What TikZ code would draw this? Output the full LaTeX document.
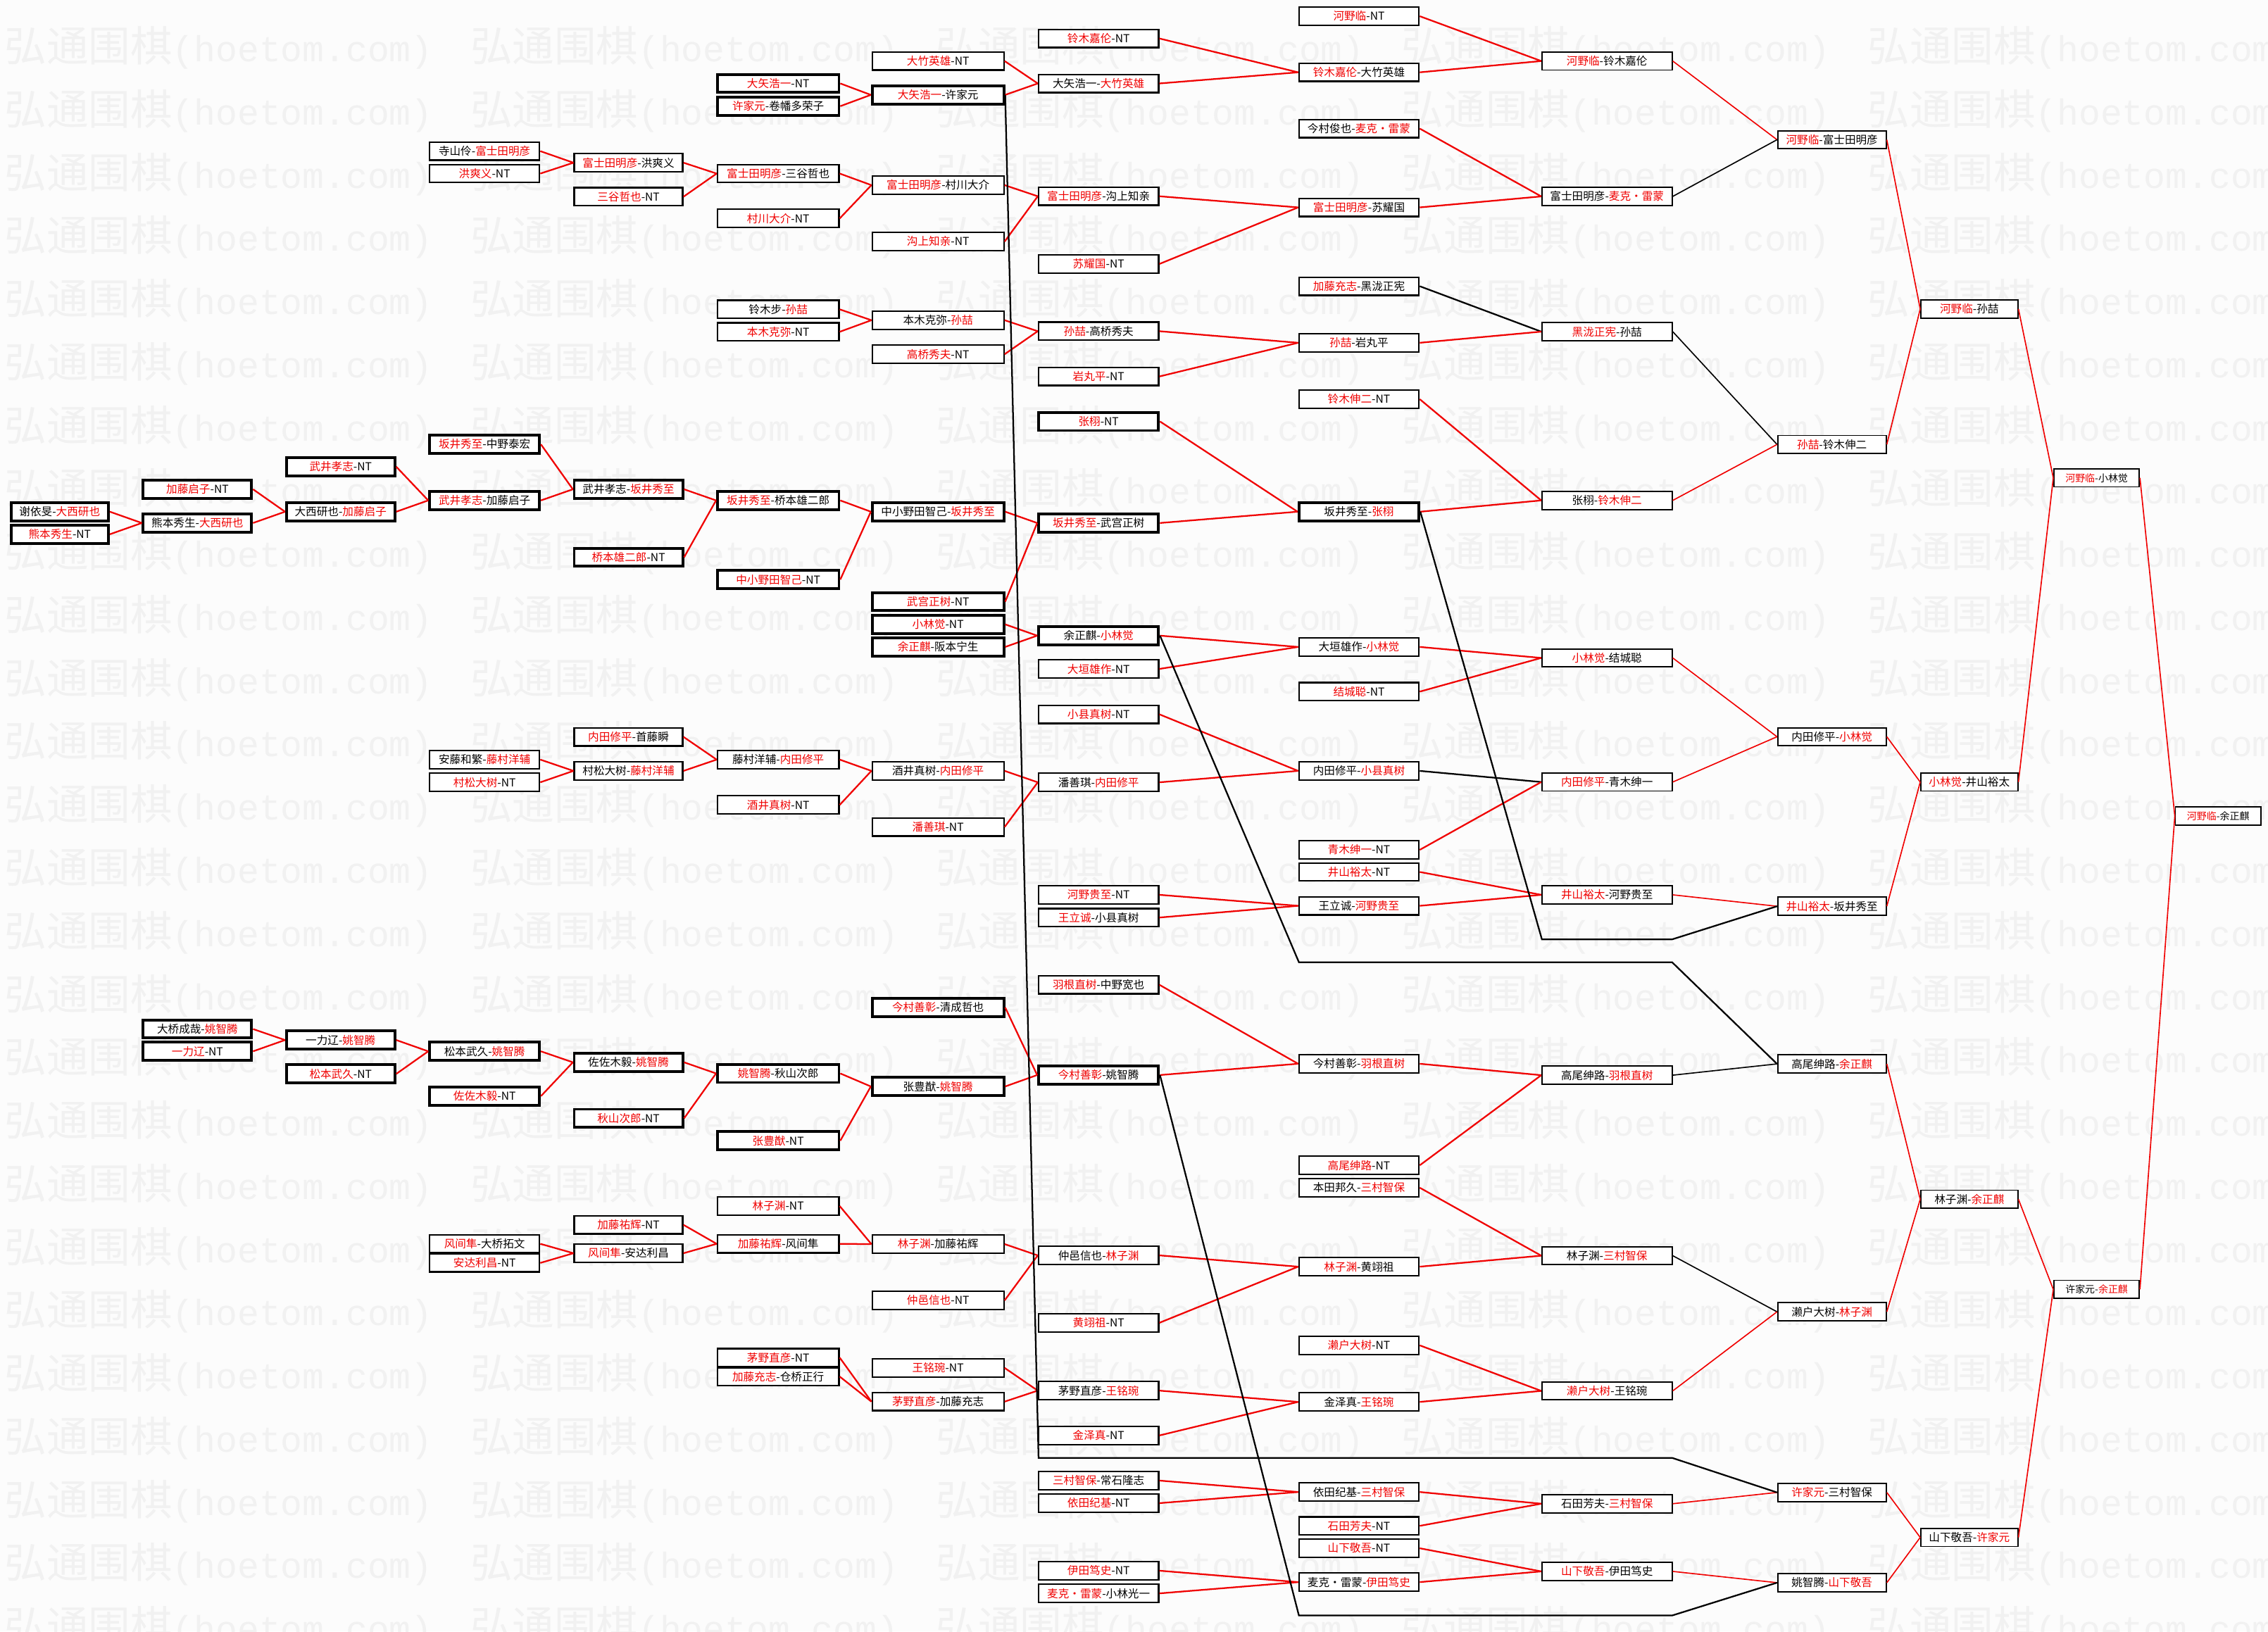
\documentclass[tikz,border=0pt]{standalone}
\usepackage{fontspec}
\newfontfamily\cjk{Noto Sans CJK SC}
\newfontfamily\wmmono{Liberation Mono}
\definecolor{myred}{RGB}{240,0,0}
\definecolor{wmc}{RGB}{241,241,241}
\definecolor{bgc}{RGB}{252,252,252}
\newcommand\R[1]{\textcolor{myred}{#1}}
\newcommand\ed[3][rl]{\draw[#1] (#2.east) -- (#3.west);}
\begin{document}
\begin{tikzpicture}[x=1pt,y=-1pt,
 box/.style={draw=black,fill=white,inner sep=0pt,minimum height=12.5pt,font=\cjk\fontsize{7.6}{8}\selectfont,line width=1.1pt},
 rbox/.style={box,line width=0.9pt},
 thk/.style={line width=1.9pt},
 c0/.style={box,minimum width=67.4pt},
 c1/.style={box,minimum width=75pt},
 c2/.style={box,minimum width=75pt},
 c3/.style={box,minimum width=76pt},
 c4/.style={box,minimum width=75pt},
 c5/.style={box,minimum width=84pt},
 c6/.style={box,minimum width=91pt},
 c7/.style={box,minimum width=83pt},
 c8/.style={box,minimum width=83pt},
 c9/.style={rbox,minimum width=90pt},
 c10/.style={rbox,minimum width=75pt},
 c11/.style={rbox,minimum width=67pt},
 c12/.style={rbox,minimum width=59pt,font=\cjk\fontsize{6.8}{7}\selectfont},
 c13/.style={rbox,minimum width=59pt,font=\cjk\fontsize{6.8}{7}\selectfont},
 rl/.style={draw=myred,line width=1.1pt},
 rlt/.style={draw=myred,line width=0.8pt},
 bl/.style={draw=black,line width=1.1pt},
 blt/.style={draw=black,line width=0.8pt},
 wmark/.style={anchor=west,inner sep=0pt,text=wmc}]
\fill[bgc] (0,0) rectangle (1568,1128);
\useasboundingbox (0,0) rectangle (1568,1128);
% watermark
\foreach \r in {0,...,25}{\foreach \c in {0,...,4}{
 \node[wmark] (wm-\r-\c) at ({3+322*\c},{33+43.7*\r}) {\cjk\fontsize{29}{30}\selectfont 弘通围棋\wmmono\fontsize{25}{26}\selectfont(hoetom.com)};}}
% ---- column 0
\node[c0,thk] (n0a) at (41.3,353.8) {谢依旻-\R{大西研也}};
\node[c0,thk] (n0b) at (41.3,369.4) {\R{熊本秀生}-NT};
% ---- column 1
\node[c1,thk] (n1a) at (136.5,338.3) {\R{加藤启子}-NT};
\node[c1,thk] (n1b) at (136.5,361.6) {熊本秀生-\R{大西研也}};
\node[c1,thk] (n1c) at (136.5,711.5) {大桥成哉-\R{姚智腾}};
\node[c1,thk] (n1d) at (136.5,726.9) {\R{一力辽}-NT};
% ---- column 2
\node[c2,thk] (n2a) at (235.5,322.7) {\R{武井孝志}-NT};
\node[c2,thk] (n2b) at (235.5,353.8) {大西研也-\R{加藤启子}};
\node[c2,thk] (n2c) at (235.5,719.1) {一力辽-\R{姚智腾}};
\node[c2,thk] (n2d) at (235.5,742.5) {\R{松本武久}-NT};
% ---- column 3
\node[c3] (n3a) at (335,104.5) {寺山伶-\R{富士田明彦}};
\node[c3] (n3b) at (335,120) {\R{洪爽义}-NT};
\node[c3,thk] (n3c) at (335,307.2) {\R{坂井秀至}-中野泰宏};
\node[c3,thk] (n3d) at (335,346) {\R{武井孝志}-加藤启子};
\node[c3] (n3e) at (335,525.2) {安藤和繁-\R{藤村洋辅}};
\node[c3] (n3f) at (335,540.9) {\R{村松大树}-NT};
\node[c3,thk] (n3g) at (335,726.9) {松本武久-\R{姚智腾}};
\node[c3,thk] (n3h) at (335,757.9) {\R{佐佐木毅}-NT};
\node[c3] (n3i) at (335,860) {\R{风间隼}-大桥拓文};
\node[c3] (n3j) at (335,873.2) {\R{安达利昌}-NT};
% ---- column 4
\node[c4] (n4a) at (434.5,112.5) {\R{富士田明彦}-洪爽义};
\node[c4] (n4b) at (434.5,136) {\R{三谷哲也}-NT};
\node[c4,thk] (n4c) at (434.5,338.3) {武井孝志-\R{坂井秀至}};
\node[c4,thk] (n4d) at (434.5,385.3) {\R{桥本雄二郎}-NT};
\node[c4] (n4e) at (434.5,509.5) {\R{内田修平}-首藤瞬};
\node[c4] (n4f) at (434.5,533) {村松大树-\R{藤村洋辅}};
\node[c4,thk] (n4g) at (434.5,734.5) {佐佐木毅-\R{姚智腾}};
\node[c4,thk] (n4h) at (434.5,773.2) {\R{秋山次郎}-NT};
\node[c4] (n4i) at (434.5,846.9) {\R{加藤祐辉}-NT};
\node[c4] (n4j) at (434.5,866.5) {\R{风间隼}-安达利昌};
% ---- column 5
\node[c5,thk] (n5a) at (538,57.7) {\R{大矢浩一}-NT};
\node[c5,thk] (n5b) at (538,73.4) {\R{许家元}-卷幡多荣子};
\node[c5] (n5c) at (538,120) {\R{富士田明彦}-三谷哲也};
\node[c5] (n5d) at (538,151) {\R{村川大介}-NT};
\node[c5] (n5e) at (538,213.9) {铃木步-\R{孙喆}};
\node[c5] (n5f) at (538,229.4) {\R{本木克弥}-NT};
\node[c5,thk] (n5g) at (538,346) {\R{坂井秀至}-桥本雄二郎};
\node[c5,thk] (n5h) at (538,400.7) {\R{中小野田智己}-NT};
\node[c5] (n5i) at (538,525.2) {藤村洋辅-\R{内田修平}};
\node[c5] (n5j) at (538,556.5) {\R{酒井真树}-NT};
\node[c5,thk] (n5k) at (538,742.2) {\R{姚智腾}-秋山次郎};
\node[c5,thk] (n5l) at (538,788.7) {\R{张豊猷}-NT};
\node[c5] (n5m) at (538,833.9) {\R{林子渊}-NT};
\node[c5] (n5n) at (538,860) {\R{加藤祐辉}-风间隼};
\node[c5] (n5o) at (538,938.7) {\R{茅野直彦}-NT};
\node[c5] (n5p) at (538,951.8) {\R{加藤充志}-仓桥正行};
% ---- column 6
\node[c6] (n6a) at (648.5,42.2) {\R{大竹英雄}-NT};
\node[c6,thk] (n6b) at (648.5,65.6) {\R{大矢浩一}-许家元};
\node[c6] (n6c) at (648.5,128) {\R{富士田明彦}-村川大介};
\node[c6] (n6d) at (648.5,167) {\R{沟上知亲}-NT};
\node[c6] (n6e) at (648.5,221.4) {本木克弥-\R{孙喆}};
\node[c6] (n6f) at (648.5,244.9) {\R{高桥秀夫}-NT};
\node[c6,thk] (n6g) at (648.5,353.8) {中小野田智己-\R{坂井秀至}};
\node[c6,thk] (n6h) at (648.5,416) {\R{武宫正树}-NT};
\node[c6,thk] (n6i) at (648.5,431.7) {\R{小林觉}-NT};
\node[c6,thk] (n6j) at (648.5,447.3) {\R{余正麒}-阪本宁生};
\node[c6] (n6k) at (648.5,533) {酒井真树-\R{内田修平}};
\node[c6] (n6l) at (648.5,571.8) {\R{潘善琪}-NT};
\node[c6,thk] (n6m) at (648.5,696.6) {\R{今村善彰}-清成哲也};
\node[c6,thk] (n6n) at (648.5,751.2) {张豊猷-\R{姚智腾}};
\node[c6] (n6o) at (648.5,860.2) {\R{林子渊}-加藤祐辉};
\node[c6] (n6p) at (648.5,899.1) {\R{仲邑信也}-NT};
\node[c6] (n6q) at (648.5,945.8) {\R{王铭琬}-NT};
\node[c6] (n6r) at (648.5,969.1) {\R{茅野直彦}-加藤充志};
% ---- column 7
\node[c7] (n7a) at (759.5,26.6) {\R{铃木嘉伦}-NT};
\node[c7] (n7b) at (759.5,57.7) {大矢浩一-\R{大竹英雄}};
\node[c7] (n7c) at (759.5,135.7) {\R{富士田明彦}-沟上知亲};
\node[c7] (n7d) at (759.5,182.5) {\R{苏耀国}-NT};
\node[c7] (n7e) at (759.5,229) {\R{孙喆}-高桥秀夫};
\node[c7] (n7f) at (759.5,260.3) {\R{岩丸平}-NT};
\node[c7,thk] (n7g) at (759.5,291.4) {\R{张栩}-NT};
\node[c7,thk] (n7h) at (759.5,361.6) {\R{坂井秀至}-武宫正树};
\node[c7,thk] (n7i) at (759.5,439.5) {余正麒-\R{小林觉}};
\node[c7] (n7j) at (759.5,462.5) {\R{大垣雄作}-NT};
\node[c7] (n7k) at (759.5,493.9) {\R{小县真树}-NT};
\node[c7] (n7l) at (759.5,540.9) {潘善琪-\R{内田修平}};
\node[c7] (n7m) at (759.5,618.7) {\R{河野贵至}-NT};
\node[c7] (n7n) at (759.5,634.4) {\R{王立诚}-小县真树};
\node[c7] (n7o) at (759.5,680.9) {\R{羽根直树}-中野宽也};
\node[c7,thk] (n7p) at (759.5,743.3) {\R{今村善彰}-姚智腾};
\node[c7] (n7q) at (759.5,868) {仲邑信也-\R{林子渊}};
\node[c7] (n7r) at (759.5,914.6) {\R{黄翊祖}-NT};
\node[c7] (n7s) at (759.5,961.5) {茅野直彦-\R{王铭琬}};
\node[c7] (n7t) at (759.5,992.5) {\R{金泽真}-NT};
\node[c7] (n7u) at (759.5,1023.7) {\R{三村智保}-常石隆志};
\node[c7] (n7v) at (759.5,1039.3) {\R{依田纪基}-NT};
\node[c7] (n7w) at (759.5,1086) {\R{伊田笃史}-NT};
\node[c7] (n7x) at (759.5,1101.7) {\R{麦克・雷蒙}-小林光一};
% ---- column 8
\node[c8] (n8a) at (939.5,11.2) {\R{河野临}-NT};
\node[c8] (n8b) at (939.5,50) {\R{铃木嘉伦}-大竹英雄};
\node[c8] (n8c) at (939.5,88.9) {今村俊也-\R{麦克・雷蒙}};
\node[c8] (n8d) at (939.5,143.4) {\R{富士田明彦}-苏耀国};
\node[c8] (n8e) at (939.5,197.9) {\R{加藤充志}-黑泷正宪};
\node[c8] (n8f) at (939.5,237) {\R{孙喆}-岩丸平};
\node[c8] (n8g) at (939.5,276) {\R{铃木伸二}-NT};
\node[c8,thk] (n8h) at (939.5,353.8) {坂井秀至-\R{张栩}};
\node[c8] (n8i) at (939.5,447.3) {大垣雄作-\R{小林觉}};
\node[c8] (n8j) at (939.5,478.2) {\R{结城聪}-NT};
\node[c8] (n8k) at (939.5,533) {内田修平-\R{小县真树}};
\node[c8] (n8l) at (939.5,587.6) {\R{青木绅一}-NT};
\node[c8] (n8m) at (939.5,602.9) {\R{井山裕太}-NT};
\node[c8] (n8n) at (939.5,626.3) {王立诚-\R{河野贵至}};
\node[c8] (n8o) at (939.5,735.5) {今村善彰-\R{羽根直树}};
\node[c8] (n8p) at (939.5,805.7) {\R{高尾绅路}-NT};
\node[c8] (n8q) at (939.5,821.2) {本田邦久-\R{三村智保}};
\node[c8] (n8r) at (939.5,875.8) {\R{林子渊}-黄翊祖};
\node[c8] (n8s) at (939.5,930.2) {\R{濑户大树}-NT};
\node[c8] (n8t) at (939.5,969.3) {金泽真-\R{王铭琬}};
\node[c8] (n8u) at (939.5,1031.6) {依田纪基-\R{三村智保}};
\node[c8] (n8v) at (939.5,1055) {\R{石田芳夫}-NT};
\node[c8] (n8w) at (939.5,1070.5) {\R{山下敬吾}-NT};
\node[c8] (n8x) at (939.5,1093.9) {麦克・雷蒙-\R{伊田笃史}};
% ---- column 9
\node[c9] (n9a) at (1111,42.2) {\R{河野临}-铃木嘉伦};
\node[c9] (n9b) at (1111,135.8) {富士田明彦-\R{麦克・雷蒙}};
\node[c9] (n9c) at (1111,229.3) {\R{黑泷正宪}-孙喆};
\node[c9] (n9d) at (1111,346) {张栩-\R{铃木伸二}};
\node[c9] (n9e) at (1111,454.9) {\R{小林觉}-结城聪};
\node[c9] (n9f) at (1111,540.7) {\R{内田修平}-青木绅一};
\node[c9] (n9g) at (1111,618.7) {\R{井山裕太}-河野贵至};
\node[c9] (n9h) at (1111,743.4) {高尾绅路-\R{羽根直树}};
\node[c9] (n9i) at (1111,868.2) {林子渊-\R{三村智保}};
\node[c9] (n9j) at (1111,961.7) {\R{濑户大树}-王铭琬};
\node[c9] (n9k) at (1111,1039.7) {石田芳夫-\R{三村智保}};
\node[c9] (n9l) at (1111,1086.5) {\R{山下敬吾}-伊田笃史};
% ---- column 10
\node[c10] (n10a) at (1266.5,96.6) {\R{河野临}-富士田明彦};
\node[c10] (n10b) at (1266.5,307.3) {\R{孙喆}-铃木伸二};
\node[c10] (n10c) at (1266.5,509.4) {内田修平-\R{小林觉}};
\node[c10] (n10d) at (1266.5,626.6) {\R{井山裕太}-坂井秀至};
\node[c10] (n10e) at (1266.5,735.6) {高尾绅路-\R{余正麒}};
\node[c10] (n10f) at (1266.5,907) {濑户大树-\R{林子渊}};
\node[c10] (n10g) at (1266.5,1031.9) {\R{许家元}-三村智保};
\node[c10] (n10h) at (1266.5,1094.3) {姚智腾-\R{山下敬吾}};
% ---- column 11
\node[c11] (n11a) at (1361.5,213.6) {\R{河野临}-孙喆};
\node[c11] (n11b) at (1361.5,540.7) {\R{小林觉}-井山裕太};
\node[c11] (n11c) at (1361.5,829.2) {林子渊-\R{余正麒}};
\node[c11] (n11d) at (1361.5,1063) {山下敬吾-\R{许家元}};
% ---- column 12
\node[c12] (n12a) at (1449.5,330.4) {\R{河野临}-小林觉};
\node[c12] (n12b) at (1449.5,891.5) {许家元-\R{余正麒}};
% ---- column 13
\node[c13] (n13a) at (1533.5,564.2) {\R{河野临}-余正麒};
% ---- bend points of the long black connectors
\coordinate (ka1) at (718,1008);
\coordinate (ka2) at (1156,1008);
\coordinate (kb1) at (898,665.3);
\coordinate (kb2) at (1156,665.3);
\coordinate (kc1) at (898,1117);
\coordinate (kc2) at (1156,1117);
\coordinate (kd1) at (1066,649.5);
\coordinate (kd2) at (1156,649.5);
% ---- connectors
\ed{n0a}{n1b}\ed{n0b}{n1b}
\ed{n1a}{n2b}\ed{n1b}{n2b}\ed{n1c}{n2c}\ed{n1d}{n2c}
\ed{n2a}{n3d}\ed{n2b}{n3d}\ed{n2c}{n3g}\ed{n2d}{n3g}
\ed{n3a}{n4a}\ed{n3b}{n4a}\ed{n3c}{n4c}\ed{n3d}{n4c}\ed{n3e}{n4f}\ed{n3f}{n4f}
\ed{n3g}{n4g}\ed{n3h}{n4g}\ed{n3i}{n4j}\ed{n3j}{n4j}
\ed{n4a}{n5c}\ed{n4b}{n5c}\ed{n4c}{n5g}\ed{n4d}{n5g}\ed{n4e}{n5i}\ed{n4f}{n5i}
\ed{n4g}{n5k}\ed{n4h}{n5k}\ed{n4i}{n5n}\ed{n4j}{n5n}
\ed{n5a}{n6b}\ed{n5b}{n6b}\ed{n5c}{n6c}\ed{n5d}{n6c}\ed{n5e}{n6e}\ed{n5f}{n6e}
\ed{n5g}{n6g}\ed{n5h}{n6g}\ed{n5i}{n6k}\ed{n5j}{n6k}\ed{n5k}{n6n}\ed{n5l}{n6n}
\ed{n5m}{n6o}\ed{n5n}{n6o}\ed{n5o}{n6r}\ed{n5p}{n6r}
\ed{n6a}{n7b}\ed{n6b}{n7b}\ed{n6c}{n7c}\ed{n6d}{n7c}\ed{n6e}{n7e}\ed{n6f}{n7e}
\ed{n6g}{n7h}\ed{n6h}{n7h}\ed{n6i}{n7i}\ed{n6j}{n7i}\ed{n6k}{n7l}\ed{n6l}{n7l}
\ed{n6m}{n7p}\ed{n6n}{n7p}\ed{n6o}{n7q}\ed{n6p}{n7q}\ed{n6q}{n7s}\ed{n6r}{n7s}
\ed{n7a}{n8b}\ed{n7b}{n8b}\ed{n7c}{n8d}\ed{n7d}{n8d}\ed{n7e}{n8f}\ed{n7f}{n8f}
\ed{n7g}{n8h}\ed{n7h}{n8h}\ed{n7i}{n8i}\ed{n7j}{n8i}\ed{n7k}{n8k}\ed{n7l}{n8k}
\ed{n7m}{n8n}\ed{n7n}{n8n}\ed{n7o}{n8o}\ed{n7p}{n8o}\ed{n7q}{n8r}\ed{n7r}{n8r}
\ed{n7s}{n8t}\ed{n7t}{n8t}\ed{n7u}{n8u}\ed{n7v}{n8u}\ed{n7w}{n8x}\ed{n7x}{n8x}
\ed{n8a}{n9a}\ed{n8b}{n9a}\ed{n8c}{n9b}\ed{n8d}{n9b}\ed[bl]{n8e}{n9c}\ed{n8f}{n9c}
\ed{n8g}{n9d}\ed{n8h}{n9d}\ed{n8i}{n9e}\ed{n8j}{n9e}\ed[bl]{n8k}{n9f}\ed{n8l}{n9f}
\ed{n8m}{n9g}\ed{n8n}{n9g}\ed{n8o}{n9h}\ed{n8p}{n9h}\ed{n8q}{n9i}\ed{n8r}{n9i}
\ed{n8s}{n9j}\ed{n8t}{n9j}\ed{n8u}{n9k}\ed{n8v}{n9k}\ed{n8w}{n9l}\ed{n8x}{n9l}
\ed[rlt]{n9a}{n10a}\ed[blt]{n9b}{n10a}\ed[blt]{n9c}{n10b}\ed[rlt]{n9d}{n10b}
\ed[rlt]{n9e}{n10c}\ed[rlt]{n9f}{n10c}\ed[rlt]{n9g}{n10d}
\ed[blt]{n9h}{n10e}\ed[blt]{n9i}{n10f}\ed[rlt]{n9j}{n10f}
\ed[rlt]{n9k}{n10g}\ed[rlt]{n9l}{n10h}
\ed[rlt]{n10a}{n11a}\ed[rlt]{n10b}{n11a}\ed[rlt]{n10c}{n11b}\ed[rlt]{n10d}{n11b}
\ed[rlt]{n10e}{n11c}\ed[rlt]{n10f}{n11c}\ed[rlt]{n10g}{n11d}\ed[rlt]{n10h}{n11d}
\ed[rlt]{n11a}{n12a}\ed[rlt]{n11b}{n12a}\ed[rlt]{n11c}{n12b}\ed[rlt]{n11d}{n12b}
\ed[rlt]{n12a}{n13a}\ed[rlt]{n12b}{n13a}
% long black connectors
\draw[bl] (n6b.east) -- (ka1) -- (ka2) -- (n10g.west);
\draw[bl] (n7i.east) -- (kb1) -- (kb2) -- (n10e.west);
\draw[bl] (n7p.east) -- (kc1) -- (kc2) -- (n10h.west);
\draw[bl] (n8h.east) -- (kd1) -- (kd2) -- (n10d.west);
\end{tikzpicture}
\end{document}
